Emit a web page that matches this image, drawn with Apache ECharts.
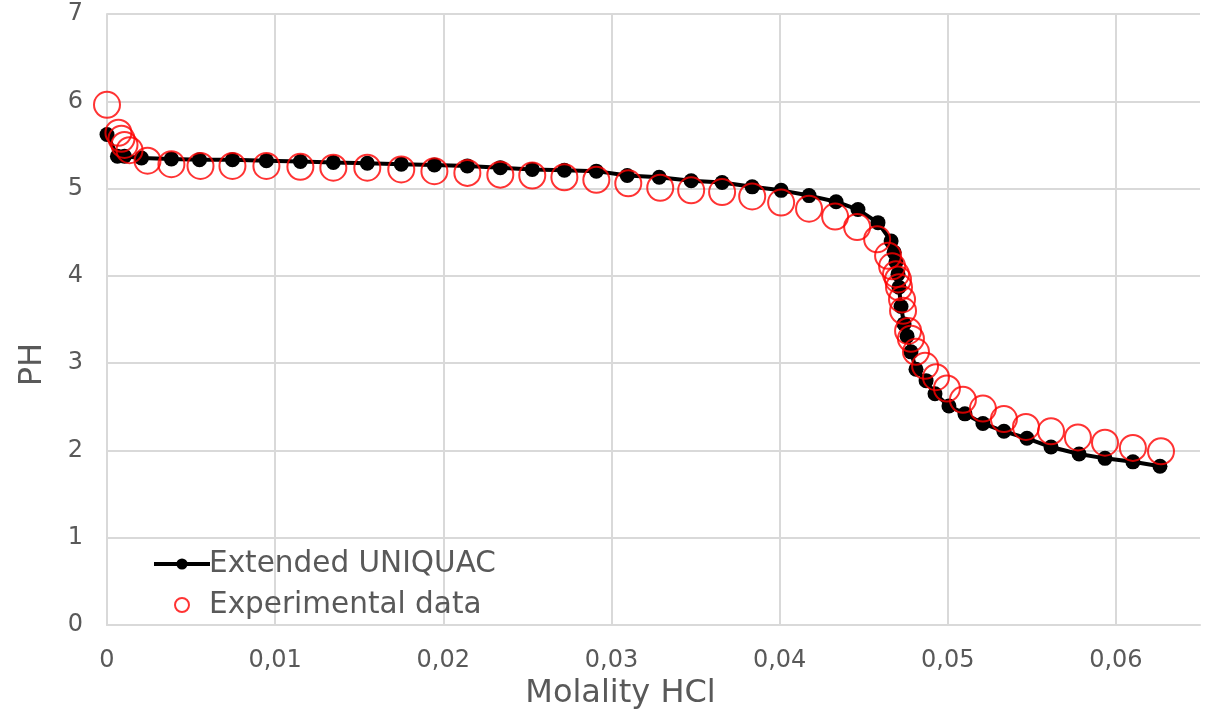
<!DOCTYPE html>
<html>
<head>
<meta charset="utf-8">
<script src="https://cdn.jsdelivr.net/npm/echarts@6/dist/echarts.min.js"></script>
<style>
  html, body { margin: 0; padding: 0; background: #fff; }
  #main { width: 1209px; height: 715px; }
</style>
</head>
<body>
<div id="main"></div>
<script>
// Extended UNIQUAC model curve
var modelX = [0, 0.00062, 0.00104, 0.00205, 0.00383, 0.0055, 0.00746, 0.00948, 0.0115, 0.01346,
  0.01548, 0.0175, 0.01947, 0.02143, 0.02339, 0.02529, 0.0272, 0.0291, 0.03094, 0.03284,
  0.03474, 0.03658, 0.03837, 0.04009, 0.04175, 0.04336, 0.04466, 0.04585, 0.04663, 0.04681,
  0.04692, 0.04704, 0.0471, 0.04722, 0.0474, 0.04758, 0.04781, 0.04811, 0.04871, 0.04924,
  0.05007, 0.05102, 0.05209, 0.05334, 0.05471, 0.05614, 0.05781, 0.05935, 0.06101, 0.06262];
var modelPH = [5.62, 5.37, 5.37, 5.35, 5.34, 5.33, 5.33, 5.32, 5.31, 5.30,
  5.29, 5.28, 5.27, 5.26, 5.24, 5.22, 5.21, 5.20, 5.15, 5.13,
  5.09, 5.07, 5.02, 4.98, 4.92, 4.85, 4.76, 4.61, 4.40, 4.27,
  4.16, 4.02, 3.87, 3.65, 3.45, 3.31, 3.13, 2.93, 2.80, 2.65,
  2.51, 2.42, 2.31, 2.22, 2.14, 2.04, 1.96, 1.91, 1.87, 1.82];

// Experimental data
var expX = [0, 0.00068, 0.00086, 0.00104, 0.00134, 0.00241, 0.00383, 0.00556, 0.00746, 0.00948,
  0.0115, 0.01346, 0.01548, 0.0175, 0.01947, 0.02143, 0.02339, 0.02529, 0.0272, 0.0291,
  0.031, 0.0329, 0.03474, 0.03658, 0.03837, 0.04009, 0.04175, 0.0433, 0.04461, 0.0458,
  0.04645, 0.04669, 0.04692, 0.04704, 0.0471, 0.04728, 0.04734, 0.04764, 0.04781, 0.04811,
  0.04865, 0.0493, 0.04995, 0.0509, 0.05209, 0.05334, 0.05465, 0.05614, 0.05774, 0.05935,
  0.06101, 0.06268];
var expPH = [5.96, 5.64, 5.57, 5.50, 5.44, 5.32, 5.28, 5.26, 5.26, 5.26,
  5.25, 5.24, 5.24, 5.22, 5.20, 5.18, 5.16, 5.15, 5.13, 5.10,
  5.06, 5.01, 4.98, 4.96, 4.91, 4.84, 4.77, 4.68, 4.56, 4.42,
  4.23, 4.11, 4.02, 3.96, 3.87, 3.73, 3.60, 3.37, 3.28, 3.13,
  2.97, 2.84, 2.71, 2.58, 2.48, 2.36, 2.27, 2.22, 2.15, 2.09,
  2.03, 1.99];

var xTicks = [0, 0.01, 0.02, 0.03, 0.04, 0.05, 0.06];

function pairs(xs, ys) {
  return xs.map(function (x, i) { return [x, ys[i]]; });
}

var chart = echarts.init(document.getElementById('main'));
var font = 'Verdana, "DejaVu Sans", sans-serif';
var grey = '#595959';

var option = {
  animation: false,
  textStyle: { fontFamily: font },
  grid: { left: 107, right: 9, top: 14, bottom: 88 },
  legend: {
    orient: 'vertical',
    left: 147,
    top: 544,
    itemWidth: 56,
    itemHeight: 14,
    itemGap: 11,
    textStyle: { fontSize: 29.5, color: grey, fontFamily: font, padding: [0, 0, 0, -6] },
    data: [
      { name: 'Extended UNIQUAC', lineStyle: { color: '#000', width: 4 }, itemStyle: { color: '#000' } },
      { name: 'Experimental data', itemStyle: { color: 'transparent', borderColor: '#ff0000', borderWidth: 2 } }
    ]
  },
  xAxis: {
    type: 'value',
    min: 0,
    max: 0.065,
    interval: 0.01,
    name: 'Molality HCl',
    nameLocation: 'middle',
    nameGap: 48,
    nameTextStyle: { fontSize: 32, color: grey, padding: [0, 66, 0, 0] },
    axisLine: { show: true, lineStyle: { color: '#d9d9d9', width: 2 } },
    axisTick: { show: false },
    axisLabel: {
      fontSize: 24, color: grey, margin: 24, showMaxLabel: false,
      formatter: function (v) {
        var hit = xTicks.some(function (t) { return Math.abs(t - v) < 1e-9; });
        return hit ? String(+v.toFixed(2)).replace('.', ',') : '';
      }
    },
    splitLine: { show: true, showMaxLine: false, lineStyle: { color: '#d9d9d9', width: 2 } }
  },
  yAxis: {
    type: 'value',
    min: 0,
    max: 7,
    interval: 1,
    name: 'PH',
    nameLocation: 'middle',
    nameGap: 58,
    nameTextStyle: { fontSize: 32, color: grey, padding: [0, 90, 0, 0] },
    axisLine: { show: true, lineStyle: { color: '#d9d9d9', width: 2 } },
    axisTick: { show: false },
    axisLabel: { fontSize: 24, color: grey, margin: 24 },
    splitLine: { show: true, lineStyle: { color: '#d9d9d9', width: 2 } }
  },
  series: [
    {
      name: 'Extended UNIQUAC',
      type: 'line',
      data: pairs(modelX, modelPH),
      symbol: 'circle',
      symbolSize: 15,
      lineStyle: { color: '#000', width: 4 },
      itemStyle: { color: '#000' },
      z: 2
    },
    {
      name: 'Experimental data',
      type: 'scatter',
      data: pairs(expX, expPH),
      symbol: 'circle',
      symbolSize: 26,
      itemStyle: { color: 'transparent', borderColor: '#ff0000', borderWidth: 2 },
      z: 3
    }
  ]
};

chart.setOption(option);
</script>
</body>
</html>
